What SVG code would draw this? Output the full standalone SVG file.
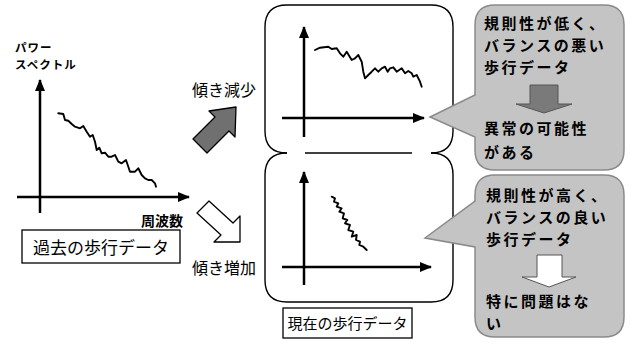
<svg xmlns="http://www.w3.org/2000/svg" width="637" height="347" viewBox="0 0 637 347">
<style>
.ax{stroke:#000;stroke-width:2.5;fill:none}
.wave{stroke:#000;stroke-width:1.9;fill:none;stroke-linejoin:round;stroke-linecap:round}
.t{font-family:"Noto Sans CJK JP","Noto Sans",sans-serif;fill:#000}
.b{font-weight:bold}
.ct{font-family:"Noto Sans CJK JP","Noto Sans",sans-serif;font-weight:bold;font-size:15px;letter-spacing:2.5px;fill:#000}
.box{fill:#fff;stroke:#000;stroke-width:1.3}
.call{fill:#c4c4c4;stroke:#8a8a8a;stroke-width:1.5}
.frame{fill:none;stroke:#000;stroke-width:1.4}
</style>
<defs>
<marker id="ah" markerUnits="userSpaceOnUse" markerWidth="12" markerHeight="10" refX="11" refY="5" orient="auto">
<path d="M0,0 L12,5 L0,10 Z" fill="#000"/>
</marker>
</defs>
<rect width="637" height="347" fill="#fff"/>

<g id="past-graph">
<line class="ax" x1="40" y1="213" x2="40" y2="80" marker-end="url(#ah)"/>
<line class="ax" x1="17" y1="197" x2="189" y2="197" marker-end="url(#ah)"/>
<polyline class="wave" points="58.3,113.3 63.3,114 65,120 68.3,120.7 71.7,124 75,126.7 80,128.3 83.3,126 86.7,131.7 90,136.7 92.7,135 95,141.7 96.7,150 99.3,147.7 101.7,153.3 105,152.7 108.3,156.7 111.7,156.7 115,155 118.3,161.7 121.7,163.3 126,160 128.3,166.7 130,171.7 135,171.7 138.3,168.3 141.7,175 145,178.3 148.3,180 151.7,180 155,183.3 156,186.7"/>
<text class="t b" x="15" y="52" font-size="11.5" letter-spacing="1">パワー</text>
<text class="t b" x="15" y="69" font-size="11.5" letter-spacing="1">スペクトル</text>
<text class="t b" x="141" y="226" font-size="14">周波数</text>
</g>

<g id="past-label">
<rect class="box" x="22" y="230" width="158" height="33"/>
<text class="t" x="101" y="254" font-size="17" text-anchor="middle">過去の歩行データ</text>
</g>

<g id="decrease">
<polygon points="193,139 215,117 209,111 236,107 235,137 229,131 207,153" fill="#707070" stroke="#000" stroke-width="1.3" stroke-linejoin="round"/>
<text class="t" x="192" y="96" font-size="16">傾き減少</text>
</g>

<g id="increase">
<polygon points="197,213 221,235 214,242 240,242 240,216 233,223 209,201" fill="#fff" stroke="#000" stroke-width="1.3" stroke-linejoin="round"/>
<text class="t" x="192" y="274" font-size="16">傾き増加</text>
</g>

<g id="current-frame">
<path class="frame" d="M287,153 Q265,153 265,131 L265,27 Q265,5 287,5 L431,5 Q453,5 453,27 L453,131 Q453,153 431,153"/>
<path class="frame" d="M287,153 Q265,153 265,175 L265,280 Q265,302 287,302 L431,302 Q453,302 453,280 L453,175 Q453,153 431,153"/>
<line x1="305" y1="153" x2="412" y2="153" stroke="#000" stroke-width="1.3"/>
</g>

<g id="current-upper">
<line class="ax" x1="304" y1="137" x2="304" y2="27" marker-end="url(#ah)"/>
<line class="ax" x1="282" y1="118" x2="424" y2="118" marker-end="url(#ah)"/>
<polyline class="wave" points="315,50 320,47.7 328.3,46.7 331.7,49 336.7,48.3 340,53.3 343.3,56.7 346.7,51.7 351.7,60 355,58.3 358.3,55 361.7,61.7 363.3,71.7 365,78.3 368.3,75 371.7,71.7 375,68.3 378.3,71.7 381.7,68.3 385,66.7 387.7,71.7 390,68.3 393.3,67.3 396.7,71.7 401.7,68.3 405,73.3 408.3,71 411.7,73.3 413.3,76.7 416.7,75 420,81.7 421.7,86.7"/>
</g>

<g id="current-lower">
<line class="ax" x1="304" y1="285" x2="304" y2="172" marker-end="url(#ah)"/>
<line class="ax" x1="282" y1="267" x2="431" y2="267" marker-end="url(#ah)"/>
<polyline class="wave" points="331.7,196.7 335,198.3 334,201.7 338.3,203.3 336.7,206.7 341.7,208.3 339.3,211.7 344,213.3 342.7,218.3 347.3,220 345,223.3 350,225 348.3,230 353.3,231.7 351.7,236.7 356.7,235 356,240 360,241.7 359.3,245 363.3,246.7 366.7,250"/>
</g>

<g id="current-label">
<rect class="box" x="283" y="308" width="129" height="30"/>
<text class="t" x="347.5" y="328.5" font-size="15" text-anchor="middle">現在の歩行データ</text>
</g>

<g id="callout-bad">
<path class="call" d="M495,5 H604 Q624,5 624,25 V150 Q624,170 604,170 H495 Q475,170 475,150 V137 L430,117 L475,95 V25 Q475,5 495,5 Z"/>
<text class="ct" x="484" y="28.5">規則性が低く、</text>
<text class="ct" x="484" y="50.5">バランスの悪い</text>
<text class="ct" x="484" y="72.5">歩行データ</text>
<polygon points="530,85 558,85 558,104 572,104 544,113 516,104 530,104" fill="#7a7a7a" stroke="#555" stroke-width="1"/>
<text class="ct" x="484" y="133.5">異常の可能性</text>
<text class="ct" x="484" y="157.5">がある</text>
</g>

<g id="callout-good">
<path class="call" d="M495,175 H604 Q624,175 624,195 V317 Q624,337 604,337 H495 Q475,337 475,317 V247 L425,238 L475,201 V195 Q475,175 495,175 Z"/>
<text class="ct" x="486" y="200.5">規則性が高く、</text>
<text class="ct" x="486" y="222.5">バランスの良い</text>
<text class="ct" x="486" y="244.5">歩行データ</text>
<polygon points="537,255 562,255 562,277 576,277 549,287 522,277 537,277" fill="#fff" stroke="#555" stroke-width="1"/>
<text class="ct" x="486" y="306.5">特に問題はな</text>
<text class="ct" x="486" y="328.5">い</text>
</g>
</svg>
